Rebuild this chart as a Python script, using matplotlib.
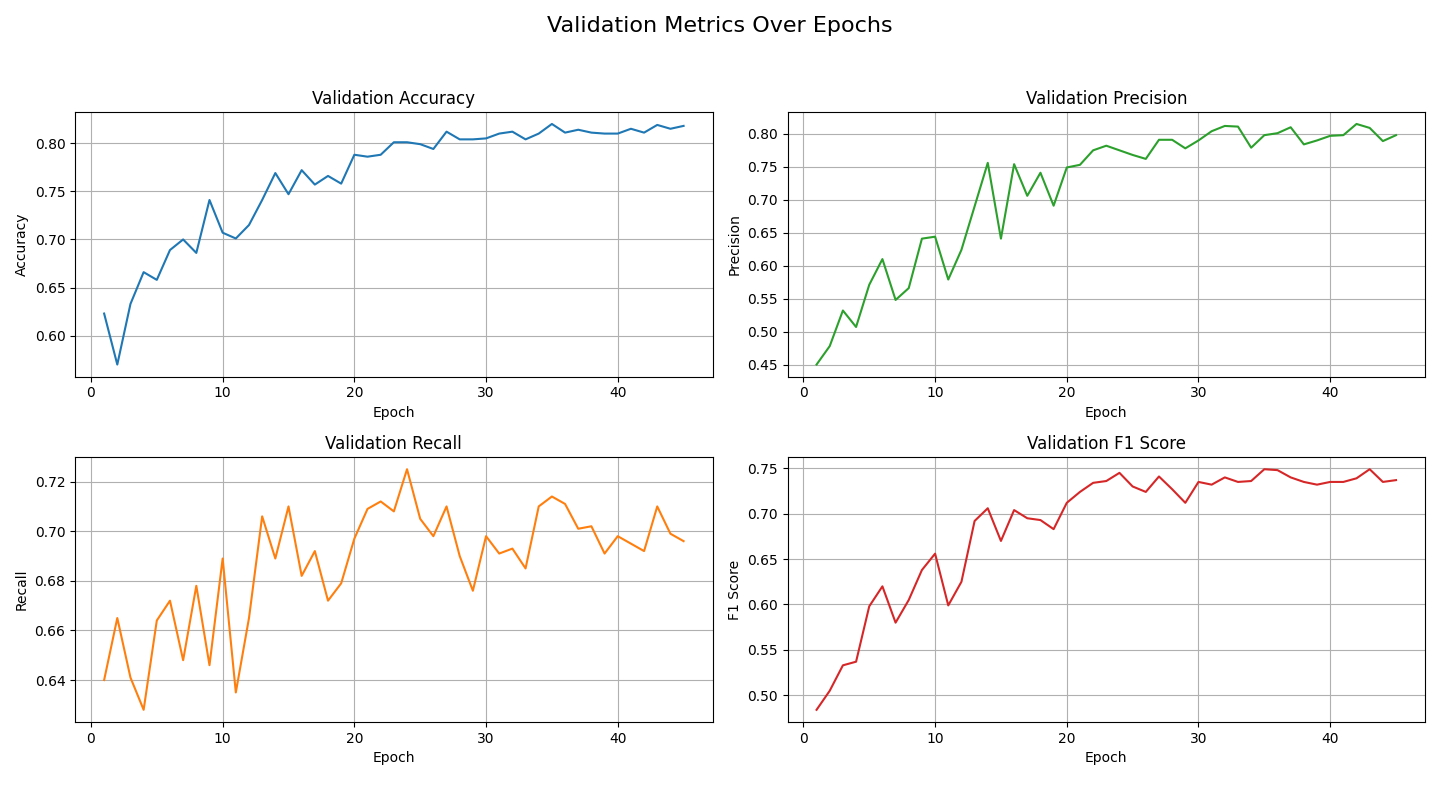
import matplotlib
matplotlib.use('Agg')
import matplotlib.pyplot as plt

epochs = list(range(1, 46))

accuracy = [0.623,0.570,0.633,0.666,0.658,0.689,0.700,0.686,0.741,0.707,
            0.701,0.715,0.741,0.769,0.747,0.772,0.757,0.766,0.758,0.788,
            0.786,0.788,0.801,0.801,0.799,0.794,0.812,0.804,0.804,0.805,
            0.810,0.812,0.804,0.810,0.820,0.811,0.814,0.811,0.810,0.810,
            0.815,0.811,0.819,0.815,0.818]
precision = [0.450,0.478,0.532,0.507,0.571,0.610,0.548,0.566,0.641,0.644,
             0.579,0.624,0.690,0.756,0.641,0.754,0.706,0.741,0.691,0.749,
             0.753,0.775,0.782,0.775,0.768,0.762,0.791,0.791,0.778,0.790,
             0.804,0.812,0.811,0.779,0.798,0.801,0.810,0.784,0.790,0.797,
             0.798,0.815,0.809,0.789,0.798]
recall = [0.640,0.665,0.641,0.628,0.664,0.672,0.648,0.678,0.646,0.689,
          0.635,0.665,0.706,0.689,0.710,0.682,0.692,0.672,0.679,0.697,
          0.709,0.712,0.708,0.725,0.705,0.698,0.710,0.690,0.676,0.698,
          0.691,0.693,0.685,0.710,0.714,0.711,0.701,0.702,0.691,0.698,
          0.695,0.692,0.710,0.699,0.696]
f1 = [0.484,0.505,0.533,0.537,0.598,0.620,0.580,0.605,0.638,0.656,
      0.599,0.625,0.692,0.706,0.670,0.704,0.695,0.693,0.683,0.712,
      0.724,0.734,0.736,0.745,0.730,0.724,0.741,0.727,0.712,0.735,
      0.732,0.740,0.735,0.736,0.749,0.748,0.740,0.735,0.732,0.735,
      0.735,0.739,0.749,0.735,0.737]

panels = [
    (accuracy, 'Validation Accuracy', 'Accuracy', 'tab:blue'),
    (precision, 'Validation Precision', 'Precision', 'tab:green'),
    (recall, 'Validation Recall', 'Recall', 'tab:orange'),
    (f1, 'Validation F1 Score', 'F1 Score', 'tab:red'),
]

fig, axes = plt.subplots(2, 2, figsize=(14.4, 7.92), dpi=100)
for ax, (vals, title, ylabel, color) in zip(axes.flat, panels):
    ax.plot(epochs, vals, color=color)
    ax.set_title(title)
    ax.set_xlabel('Epoch')
    ax.set_ylabel(ylabel)
    ax.grid(True)

fig.suptitle('Validation Metrics Over Epochs', fontsize=16)
fig.tight_layout(rect=[0, 0.015, 1, 0.95])
plt.savefig('out.png', dpi=100)
